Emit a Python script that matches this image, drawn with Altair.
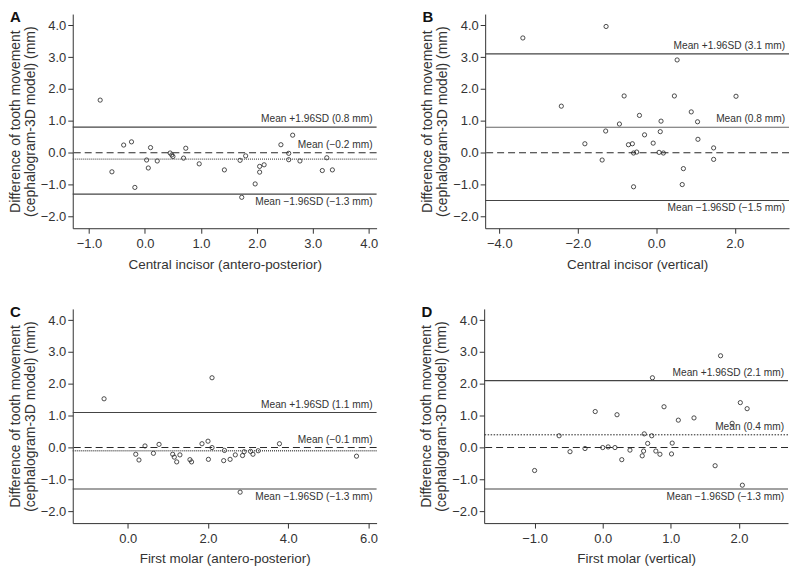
import altair as alt
import pandas as pd

# ---------------- data ----------------
a_x = [-0.80, -0.59, -0.38, -0.24, -0.18, 0.03, 0.06, 0.10, 0.22, 0.45, 0.48, 0.50, 0.69, 0.73, 0.97,
       1.42, 1.70, 1.73, 1.80, 1.97, 2.05, 2.05, 2.13, 2.43, 2.57, 2.57, 2.64, 2.77, 3.17, 3.25, 3.35]
a_y = [1.65, -0.60, 0.24, 0.34, -1.09, -0.23, -0.48, 0.16, -0.26, -0.01, -0.07, -0.12, -0.17, 0.14, -0.35,
       -0.54, -0.24, -1.40, -0.10, -0.98, -0.43, -0.61, -0.38, 0.25, -0.02, -0.22, 0.55, -0.26, -0.56, -0.16, -0.54]

b_x = [-3.40, -1.28, -2.42, -1.82, -1.29, -1.38, -0.94, -0.82, -0.71, -0.61, -0.58, -0.50, -0.58, -0.43, -0.30,
       -0.08, 0.07, 0.18, 0.10, 0.12, 0.46, 0.53, 0.69, 0.66, 0.89, 1.05, 1.06, 1.46, 1.46, 2.03]
b_y = [3.60, 3.96, 1.46, 0.28, 0.68, -0.23, 0.90, 1.78, 0.25, 0.28, -0.01, 0.02, -1.07, 1.17, 0.56,
       0.30, 0.01, -0.01, 0.66, 0.99, 1.78, 2.91, -0.50, -1.00, 1.28, 0.97, 0.42, 0.15, -0.21, 1.77]

c_x = [-0.59, 0.20, 0.28, 0.43, 0.64, 0.78, 1.12, 1.16, 1.22, 1.30, 1.55, 1.59, 1.85, 2.00, 2.01,
       2.10, 2.10, 2.39, 2.41, 2.55, 2.68, 2.80, 2.86, 2.90, 3.06, 3.12, 3.25, 3.78, 5.70]
c_y = [1.53, -0.21, -0.39, 0.05, -0.18, 0.10, -0.21, -0.30, -0.45, -0.23, -0.38, -0.45, 0.12, 0.20, -0.37,
       2.19, 0.00, -0.41, -0.09, -0.37, -0.23, -1.40, -0.25, -0.13, -0.12, -0.21, -0.10, 0.12, -0.27]

d_x = [-1.00, -0.64, -0.48, -0.26, -0.11, 0.00, 0.08, 0.18, 0.21, 0.28, 0.40, 0.58, 0.60, 0.61, 0.66,
       0.72, 0.73, 0.78, 0.84, 0.90, 1.01, 1.02, 1.11, 1.34, 1.65, 1.73, 1.90, 2.02, 2.05, 2.12]
d_y = [-0.72, 0.37, -0.13, -0.03, 1.13, 0.00, 0.02, 0.00, 1.03, -0.38, -0.08, -0.26, -0.11, 0.43, 0.13,
       0.37, 2.19, -0.11, -0.21, 1.28, -0.20, 0.14, 0.86, 0.93, -0.57, 2.88, 0.76, 1.41, -1.18, 1.22]

panel_keys = ["A", "B", "C", "D"]
x_titles = ["Central incisor (antero-posterior)", "Central incisor (vertical)",
            "First molar (antero-posterior)", "First molar (vertical)"]
means = [-0.2, 0.8, -0.1, 0.4]
uppers = [0.8, 3.1, 1.1, 2.1]
lowers = [-1.3, -1.5, -1.3, -1.3]
x_tick_values = [[-1, 0, 1, 2, 3, 4], [-4, -2, 0, 2], [0, 2, 4, 6], [-1, 0, 1, 2]]
y_tick_values = [-2, -1, 0, 1, 2, 3, 4]
y_title = ["Difference of tooth movement", "(cephalogram-3D model) (mm)"]

# ---------------- styling / layout ----------------
X_DOMAINS = [[-1.29, 4.14], [-4.36, 3.38], [-1.37, 6.2], [-1.74, 2.72]]
Y_DOMAIN = [-2.37, 4.35]
W, H = 305, 215
FONT = "Liberation Sans"
TXT = "#333333"


def fmt(v):
    return f"{v:.1f}".replace("-", "\u2212")


def panel(i, xs, ys):
    key = panel_keys[i]
    pts = pd.DataFrame({"x": xs, "y": ys})
    xsc = alt.Scale(domain=X_DOMAINS[i], nice=False, zero=False)
    ysc = alt.Scale(domain=Y_DOMAIN, nice=False, zero=False)
    xax = alt.Axis(values=x_tick_values[i], format=".1f", title=x_titles[i])
    yax = alt.Axis(values=y_tick_values, format=".1f", title=y_title)

    def Y(field):
        return alt.Y(field, scale=ysc, axis=yax)

    points = alt.Chart(pts).mark_point(
        shape="circle", filled=False, size=18, color="#222222", strokeWidth=0.8, opacity=1
    ).encode(
        x=alt.X("x:Q", scale=xsc, axis=xax),
        y=Y("y:Q"),
    )

    limits = alt.Chart(pd.DataFrame({"y": [uppers[i], lowers[i]]})).mark_rule(
        color="#444444", strokeWidth=1.2
    ).encode(y=Y("y:Q"))

    zero = alt.Chart(pd.DataFrame({"y": [0.0]})).mark_rule(
        color="#2a2a2a", strokeWidth=1.1, strokeDash=[7, 4]
    ).encode(y=Y("y:Q"))

    if key == "B":
        mean_mark = alt.Chart(pd.DataFrame({"y": [means[i]]})).mark_rule(
            color="#666666", strokeWidth=1.1)
    elif key == "D":
        mean_mark = alt.Chart(pd.DataFrame({"y": [means[i]]})).mark_rule(
            color="#222222", strokeWidth=1.0, strokeDash=[1.5, 1.5])
    else:
        mean_mark = alt.Chart(pd.DataFrame({"y": [means[i]]})).mark_rule(
            color="#555555", strokeWidth=1.3, strokeDash=[1, 1])
    mean_rule = mean_mark.encode(y=Y("y:Q"))

    above = pd.DataFrame({
        "y": [uppers[i], max(means[i], 0.0)],
        "t": [f"Mean +1.96SD ({fmt(uppers[i])} mm)", f"Mean ({fmt(means[i])} mm)"],
    })
    below = pd.DataFrame({"y": [lowers[i]], "t": [f"Mean \u22121.96SD ({fmt(lowers[i])} mm)"]})

    text_above = alt.Chart(above).mark_text(
        align="right", baseline="bottom", dy=-3, font=FONT, fontSize=10.2, color=TXT
    ).encode(x=alt.value(W - 4), y=Y("y:Q"), text="t:N")
    text_below = alt.Chart(below).mark_text(
        align="right", baseline="top", dy=3, font=FONT, fontSize=10.2, color=TXT
    ).encode(x=alt.value(W - 4), y=Y("y:Q"), text="t:N")

    label = alt.Chart(pd.DataFrame({"k": [key]})).mark_text(
        align="left", baseline="top", font=FONT, fontSize=15, fontWeight="bold", color="#111111"
    ).encode(x=alt.value(-63), y=alt.value(-4), text="k:N")

    return alt.layer(points, limits, zero, mean_rule, text_above, text_below, label).properties(
        width=W, height=H
    )


pa = panel(0, a_x, a_y)
pb = panel(1, b_x, b_y)
pc = panel(2, c_x, c_y)
pd_ = panel(3, d_x, d_y)

chart = alt.vconcat(
    alt.hconcat(pa, pb, spacing=42),
    alt.hconcat(pc, pd_, spacing=42),
    spacing=34,
).properties(
    padding={"left": 0, "top": 1, "right": 0, "bottom": 0}
).configure_view(
    stroke=None
).configure_axis(
    grid=False,
    domainColor="#333333",
    tickColor="#333333",
    tickSize=5,
    labelFont=FONT,
    labelFontSize=13,
    labelColor=TXT,
    labelPadding=2,
    titleFont=FONT,
    titleFontSize=14,
    titleFontWeight="normal",
    titleColor=TXT,
).configure_axisY(
    titlePadding=3,
    titleLineHeight=15,
).configure_axisX(
    labelPadding=4,
    titlePadding=7,
    titleFontSize=13.5,
)

chart.save("out.html", embed_options={"renderer": "svg", "actions": False})
